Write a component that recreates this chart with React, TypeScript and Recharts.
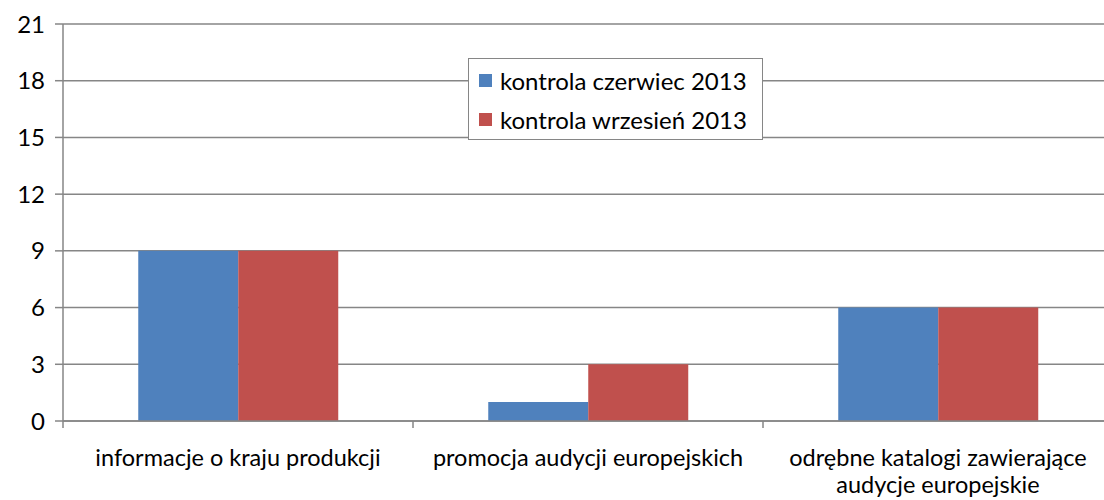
import { BarChart, Bar, XAxis, YAxis, CartesianGrid } from "recharts";

const categories = [
  "informacje o kraju produkcji",
  "promocja audycji europejskich",
  "odrębne katalogi zawierające audycje europejskie",
];
const czerwiec = [9, 1, 6];
const wrzesien = [9, 3, 6];
const yTicks = [0, 3, 6, 9, 12, 15, 18, 21];

const seriesNames = ["kontrola czerwiec 2013", "kontrola wrzesień 2013"];
const colors = ["#4F81BD", "#C0504D"];

const data = categories.map((name, i) => ({
  name,
  czerwiec: czerwiec[i],
  wrzesien: wrzesien[i],
}));

const FONT = "Lato, 'Open Sans', sans-serif";
const AXIS = "#868686";
const CHART_W = 1117;
const Y_W = 63;
const RIGHT = 4;

// greedy word wrap by character count
function wrap(s: string, max = 29) {
  const lines: string[] = [];
  let cur = "";
  for (const w of s.split(" ")) {
    const next = cur ? cur + " " + w : w;
    if (next.length > max && cur) {
      lines.push(cur);
      cur = w;
    } else cur = next;
  }
  if (cur) lines.push(cur);
  return lines;
}

function CategoryTick(props: any) {
  const { x, y, payload, index } = props;
  const band = (CHART_W - Y_W - RIGHT) / categories.length;
  return (
    <g>
      <line x1={x - band / 2} y1={y - 8} x2={x - band / 2} y2={y - 1} stroke={AXIS} strokeWidth={1.5} />
      {index === categories.length - 1 && (
        <line x1={x + band / 2} y1={y - 8} x2={x + band / 2} y2={y - 1} stroke={AXIS} strokeWidth={1.5} />
      )}
      <text x={x} y={y + 37} textAnchor="middle" fontSize={23.5} fontFamily={FONT} fill="#000">
        {wrap(payload.value).map((l, i) => (
          <tspan key={i} x={x} dy={i === 0 ? 0 : 27}>
            {l}
          </tspan>
        ))}
      </text>
    </g>
  );
}

function Legend() {
  return (
    <div
      style={{
        position: "absolute",
        left: 468,
        top: 58,
        width: 295,
        height: 82,
        border: "1.5px solid #868686",
        background: "#fff",
        fontFamily: FONT,
        fontSize: 24,
        color: "#000",
        boxSizing: "border-box",
        padding: "2px 0 0 10px",
      }}
    >
      {seriesNames.map((n, i) => (
        <div key={n} style={{ display: "flex", alignItems: "center", height: 39 }}>
          <span style={{ width: 13, height: 13, background: colors[i], marginRight: 8, display: "inline-block" }} />
          <span>{n}</span>
        </div>
      ))}
    </div>
  );
}

export default function App() {
  return (
    <div
      style={{
        position: "absolute",
        left: 0,
        top: 0,
        width: 1104,
        height: 500,
        overflow: "hidden",
        background: "#fff",
      }}
    >
      <BarChart
        width={CHART_W}
        height={500}
        data={data}
        margin={{ top: 24, right: RIGHT, left: 0, bottom: 0 }}
        barCategoryGap="21.5%"
        barGap={0}
      >
        <CartesianGrid vertical={false} stroke={AXIS} strokeWidth={1.5} />
        <XAxis
          dataKey="name"
          interval={0}
          height={79}
          axisLine={{ stroke: AXIS, strokeWidth: 1.5 }}
          tickLine={false}
          tick={<CategoryTick />}
        />
        <YAxis
          domain={[0, 21]}
          ticks={yTicks}
          width={Y_W}
          tickSize={8}
          tickMargin={10}
          axisLine={{ stroke: AXIS, strokeWidth: 1.5 }}
          tickLine={{ stroke: AXIS, strokeWidth: 1.5 }}
          tick={{ fontSize: 24, fontFamily: FONT, fill: "#000" }}
        />
        <Bar dataKey="czerwiec" name={seriesNames[0]} fill={colors[0]} isAnimationActive={false} />
        <Bar dataKey="wrzesien" name={seriesNames[1]} fill={colors[1]} isAnimationActive={false} />
      </BarChart>
      <Legend />
    </div>
  );
}
